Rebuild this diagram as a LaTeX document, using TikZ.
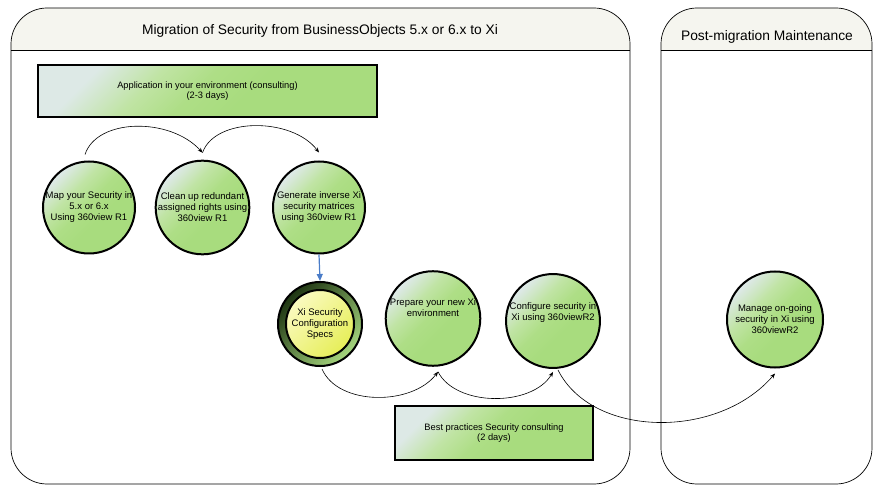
\documentclass[tikz,border=0pt]{standalone}
\usepackage{fontspec}
\setmainfont{Liberation Sans}
\usetikzlibrary{arrows.meta,shapes.geometric}
\definecolor{gLight}{HTML}{DDE9E6}
\definecolor{gMid}{HTML}{C0E4A4}
\definecolor{gDark}{HTML}{A8DC7E}
\definecolor{gDarkB}{HTML}{AEDE86}
\definecolor{hdr}{HTML}{F5F5EF}
\definecolor{arrowblue}{HTML}{4A7CC8}
\definecolor{ringDark}{HTML}{1E3512}
\definecolor{ringLight}{HTML}{A6D67E}
\definecolor{yLight}{HTML}{FAFAC0}
\definecolor{yDark}{HTML}{E6EE58}
\pgfdeclareverticalshading{greensh}{100bp}{color(0bp)=(gDark); color(42bp)=(gDark); color(52bp)=(gDarkB); color(62bp)=(gMid); color(74bp)=(gLight); color(100bp)=(gLight)}
\tikzset{
  panel/.style={draw=black, line width=0.7pt, rounded corners=36pt},
  greenfill/.style={shading=greensh, shading angle=45},
  stepcircle/.style={circle, draw=black, line width=2pt, greenfill, minimum size=#1, inner sep=0pt, align=center, font=\fontsize{9.5}{11}\selectfont},
  greenbox/.style={draw=black, line width=2pt, greenfill, align=center, font=\fontsize{9.3}{10.3}\selectfont, inner sep=0pt},
  flow/.style={-{Stealth[length=5pt,width=4pt]}, line width=0.6pt, black},
  title/.style={font=\fontsize{13.8}{16}\selectfont}
}
\begin{document}
\begin{tikzpicture}[x=1pt,y=1pt]
\useasboundingbox (0,0) rectangle (873,485);
% left panel
\begin{scope}
  \clip (11,435) rectangle (630,478);
  \fill[hdr, rounded corners=36pt] (11,1) rectangle (630,477);
\end{scope}
\draw[panel] (11,1) rectangle (630,477);
\draw[line width=0.7pt] (11,435) -- (630,435);
\node[title] (t1) at (320,454) {Migration of Security from BusinessObjects 5.x or 6.x to Xi};
% right panel
\begin{scope}
  \clip (661,435) rectangle (872,478);
  \fill[hdr, rounded corners=36pt] (661,1) rectangle (872,477);
\end{scope}
\draw[panel] (661,1) rectangle (872,477);
\draw[line width=0.7pt] (661,435) -- (872,435);
\node[title] (t2) at (767,448) {Post-migration Maintenance};
% boxes
\node[greenbox, minimum width=339pt, minimum height=52pt] (app) at (207.5,394) {Application in your environment (consulting)\\(2-3 days)};
\node[greenbox, minimum width=198pt, minimum height=54pt] (best) at (494,52) {Best practices Security consulting\\(2 days)};
% circles
\node[stepcircle=92pt] (c1) at (89,277.5) {Map your Security in\\5.x or 6.x\\Using 360view R1};
\node[stepcircle=92pt] (c2) at (202.5,277.5) {Clean up redundant\\assigned rights using\\360view R1};
\node[stepcircle=92pt] (c3) at (319,277.5) {Generate inverse Xi\\security matrices\\using 360view R1};
\node[circle, draw=black, line width=2pt, shading=axis, top color=ringDark, bottom color=ringLight, shading angle=45, minimum size=84pt, inner sep=0pt] (xo) at (320,161) {};
\node[circle, draw=black, line width=2pt, shading=axis, top color=yLight, bottom color=yDark, shading angle=45, minimum size=68pt, inner sep=0pt, align=center, font=\fontsize{9.5}{11}\selectfont] (xi) at (320,161) {Xi Security\\Configuration\\Specs};
\node[stepcircle=90pt] (prep) at (433,166.5) {Prepare your new Xi\\environment\\[11pt]};
\node[stepcircle=92pt] (conf) at (553,164) {Configure security in\\Xi using 360viewR2\\[8pt]};
\node[stepcircle=96pt, font=\fontsize{9.5}{11}\selectfont] (man) at (775,165.5) {Manage on-going\\security in Xi using\\360viewR2};
% connectors
\draw[flow] ([shift={(-4pt,6pt)}]c1.north) .. controls (97,367) and (170,368) .. ([yshift=7pt]c2.north);
\draw[flow] ([yshift=7pt]c2.north) .. controls (215,368) and (292,368) .. ([yshift=8pt]c3.north);
\draw[-{Triangle[length=7pt,width=6pt]}, line width=1.2pt, arrowblue] (c3.south) -- (xo.north);
\draw[flow] ([shift={(2pt,-2pt)}]xo.south) .. controls (338,79) and (412,79) .. ([shift={(5pt,-5pt)}]prep.south);
\draw[flow] ([shift={(5pt,-5pt)}]prep.south) .. controls (456,78) and (532,78) .. ([yshift=-3pt]conf.south);
\draw[flow] ([shift={(5pt,-1pt)}]conf.south) .. controls (592,47) and (718,45) .. ([yshift=-5pt]man.south);
\end{tikzpicture}
\end{document}
